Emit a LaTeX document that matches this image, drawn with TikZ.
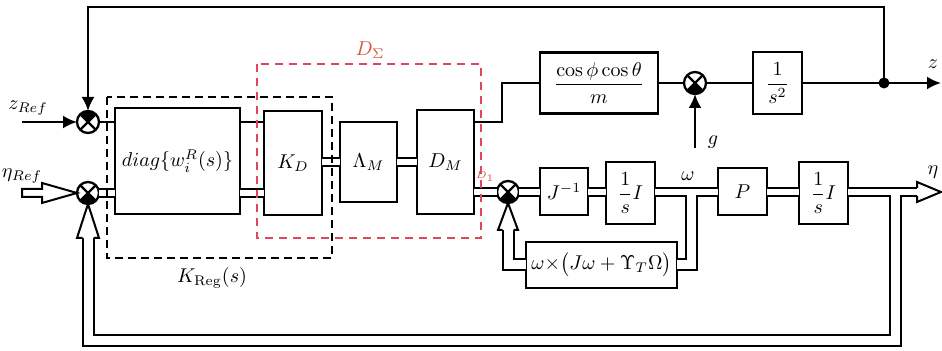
\documentclass[tikz,border=0pt]{standalone}
\usetikzlibrary{arrows.meta,calc}
\definecolor{dred}{RGB}{222,72,92}
\definecolor{lred}{RGB}{214,84,64}
\begin{document}
\begin{tikzpicture}[x=0.5pt,y=-0.5pt,
  every node/.style={inner sep=0pt, outer sep=0pt},
  blk/.style={draw, line width=1.25pt},
  ln/.style={line width=1.15pt},
  arr/.style={ln, -{Latex[length=7pt,width=6.5pt]}},
  dbl/.style={double, line width=1pt, double distance=3pt},
  dblw/.style={double, line width=1pt, double distance=4.5pt},
  hollow/.style={line width=1pt, line join=miter},
  sumbase/.style={circle, draw, line width=1.15pt, minimum size=11pt},
  sumtop/.style={sumbase, path picture={
    \draw[line width=1.1pt] (path picture bounding box.north west) -- (path picture bounding box.south east)
      (path picture bounding box.north east) -- (path picture bounding box.south west);
    \fill (path picture bounding box.center) -- (path picture bounding box.north west) -- (path picture bounding box.north east) -- cycle;}},
  sumbot/.style={sumbase, path picture={
    \draw[line width=1.1pt] (path picture bounding box.north west) -- (path picture bounding box.south east)
      (path picture bounding box.north east) -- (path picture bounding box.south west);
    \fill (path picture bounding box.center) -- (path picture bounding box.south west) -- (path picture bounding box.south east) -- cycle;}},
  dot/.style={circle, fill, minimum size=5.5pt},
  kdash/.style={line width=1pt, dash pattern=on 4pt off 2.5pt},
  rdash/.style={dred, line width=0.8pt, dash pattern=on 4pt off 3pt}
]
\useasboundingbox (0,0) rectangle (942,351);

% summing junctions
\node[sumtop] (S1) at (88,122) {};
\node[sumbot] (S2) at (88,193) {};
\node[sumbot] (S4) at (508,192) {};
\node[sumbot] (S3) at (695,83) {};
\node[dot] (jz) at (884,83) {};

% blocks
\node[blk, minimum width=62.5pt, minimum height=53pt] (diag) at (177.5,161) {$diag\{w_i^R(s)\}$};
\node[blk, minimum width=29pt, minimum height=52pt] (KD) at (293,163) {$K_D$};
\node[blk, minimum width=28.5pt, minimum height=40pt] (Lam) at (368.5,162) {$\Lambda_M$};
\node[blk, minimum width=28.5pt, minimum height=52pt] (DM) at (445.5,162) {$D_M$};
\node[blk, minimum width=59pt, minimum height=30.5pt] (cos) at (599,83) {$\displaystyle\frac{\cos\phi\cos\theta}{m}$};
\node[blk, minimum width=24.5pt, minimum height=31pt] (s2) at (777.5,83) {$\displaystyle\frac{1}{s^2}$};
\node[blk, minimum width=24pt, minimum height=23.5pt] (Jinv) at (564,191.5) {$J^{-1}$};
\node[blk, minimum width=24.5pt, minimum height=31pt] (int1) at (630.5,193) {$\displaystyle\frac{1}{s}I$};
\node[blk, minimum width=24.5pt, minimum height=23.5pt] (P) at (742.5,191.5) {$P$};
\node[blk, minimum width=24.5pt, minimum height=31pt] (int2) at (823.5,193) {$\displaystyle\frac{1}{s}I$};
\node[blk, minimum width=75.5pt, minimum height=23pt] (fb) at (601.5,265) {$\omega{\times}\bigl(J\omega+\Upsilon_T\Omega\bigr)$};

% free ends
\coordinate (zin) at (22,122);
\coordinate (ftop) at (884,7);
\coordinate (zout) at (941,83);
\coordinate (gin) at (695,148);
\coordinate (k1) at (502,122);
\coordinate (etab) at (917,192);
\coordinate (etatip) at (941,192);
\coordinate (wb) at (691,192);
\coordinate (fbb) at (508,230);
\coordinate (lb) at (895,192);
\coordinate (lb2) at (895,341);
\coordinate (lb3) at (88,238);

% single-line connectors
\draw[arr] (zin) -- (S1.west);
\draw[arr] (jz.center) -- (ftop) -| (S1.north);
\draw[ln] (S1.east) -- (S1.east -| diag.west);
\draw[ln] (diag.east |- S1) -- (KD.west |- S1);
\draw[ln] (DM.east |- S1) -- (k1) |- (cos.west);
\draw[ln] (cos.east) -- (S3.west);
\draw[arr] (gin) -- (S3.south);
\draw[ln] (S3.east) -- (s2.west);
\draw[ln] (s2.east) -- (jz.center);
\draw[arr] (jz.center) -- (zout);

% double-line connectors
\draw[dbl] (S2.east) -- (S2 -| diag.west);
\draw[dbl] (diag.east |- S2) -- (KD.west |- S2);
\draw[dbl] (KD.east |- Lam) -- (Lam.west);
\draw[dbl] (Lam.east) -- (Lam -| DM.west);
\draw[dbl] (DM.east |- S4) -- (S4.west);
\draw[dbl] (S4.east) -- (S4 -| Jinv.west);
\draw[dbl] (Jinv.east |- S4) -- (S4 -| int1.west);
\draw[dbl] (int1.east |- S4) -- (S4 -| P.west);
\draw[dbl] (P.east |- S4) -- (S4 -| int2.west);
\draw[dbl] (int2.east |- S4) -- (etab);
\draw[hollow] (917,188) -- (917,182) -- (etatip) -- (917,202) -- (917,196);

% omega feedback
\draw[dblw] (wb) |- (fb.east);
\draw[white, line width=3pt] (int1.east |- S4) -- (S4 -| P.west);
\draw[dblw] (fb.west) -| (fbb);
\draw[hollow] (502.5,230) -- (498,230) -- (S4.south) -- (518,230) -- (513.5,230);

% eta feedback loop
\draw[dblw] (lb) -- (lb2) -| (lb3);
\draw[white, line width=3pt] (int2.east |- S4) -- (etab);
\draw[hollow] (82.5,238) -- (77,238) -- (S2.south) -- (99,238) -- (93.5,238);

% eta_ref input
\draw[hollow] (22,189) -- (42,189) -- (42,183) -- (S2.west) -- (42,203) -- (42,197) -- (22,197) -- cycle;

% labels
\node (lzref) at (28,108) {$z_{Ref}$};
\node (letaref) at (22,176) {$\eta_{Ref}$};
\node (lkreg) at (212,278) {$K_{\mathrm{Reg}}(s)$};
\node[text=lred] (lds) at (370,50) {$D_\Sigma$};
\node[text=lred, font=\tiny] (ld1) at (485,177) {$D_1$};
\node (lg) at (713,142) {$g$};
\node (lz) at (933,64) {$z$};
\node (lw) at (688,176) {$\omega$};
\node (leta) at (933,172) {$\eta$};

% dashed groupings
\draw[kdash] (107,97) rectangle (332,258);
\draw[rdash] (257,64) rectangle (481,238);
\end{tikzpicture}
\end{document}
